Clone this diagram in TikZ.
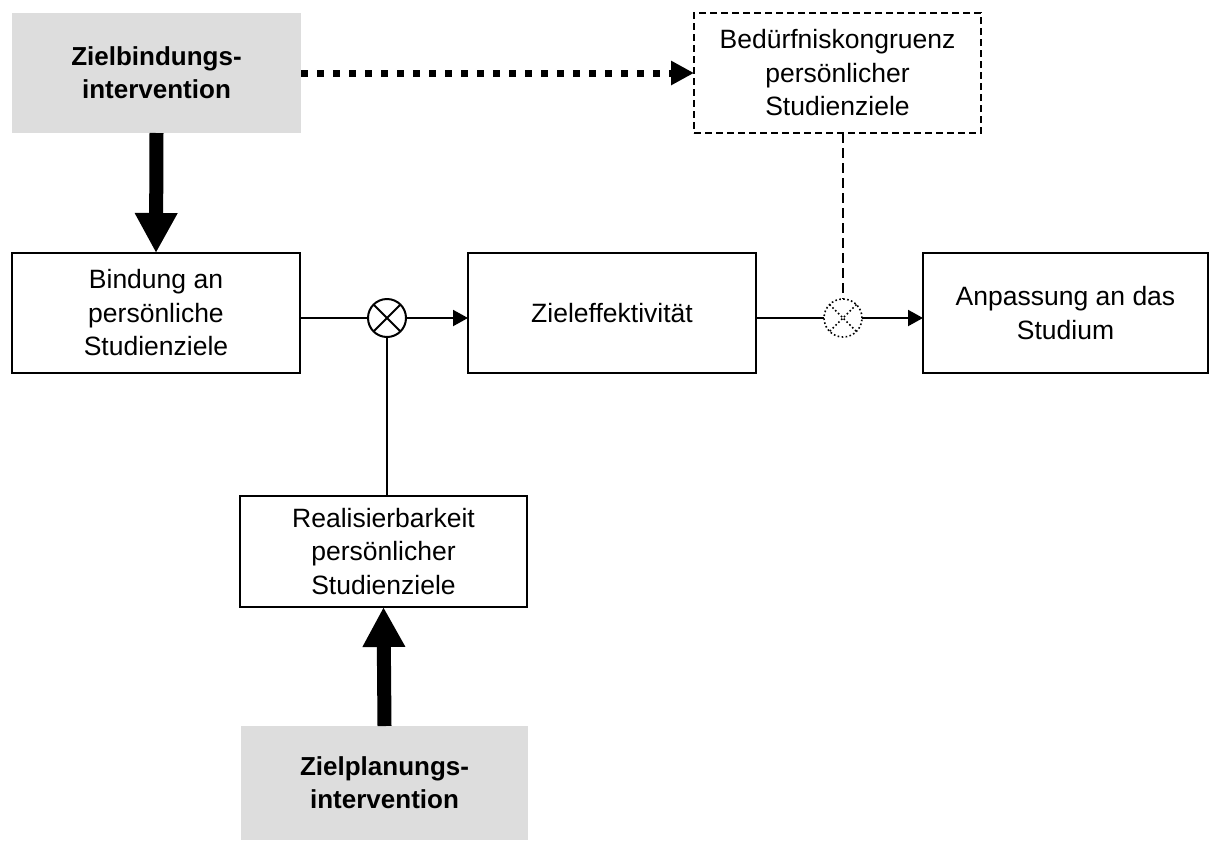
\documentclass[tikz,border=0pt]{standalone}
\usepackage{fontspec}
\setmainfont{Liberation Sans}
\usetikzlibrary{arrows.meta,calc}
\definecolor{boxgray}{RGB}{221,221,221}
\tikzset{
  x=1pt, y=-1pt,
  every node/.style={inner sep=0pt, outer sep=0pt, align=center,
    font=\fontsize{26.5}{33.5}\selectfont},
  plainbox/.style={draw=black, line width=2pt, minimum width=#1, minimum height=120pt},
  plainbox/.default=288pt,
  graybox/.style={fill=boxgray, minimum width=#1, minimum height=120pt,
    font=\fontsize{26}{33}\selectfont\bfseries},
  graybox/.default=288pt,
  dashbox/.style={draw=black, line width=2pt, dash pattern=on 7pt off 4pt,
    minimum width=287pt, minimum height=120pt},
  mult/.style={circle, draw=black, line width=2pt, minimum size=38pt},
  dotmult/.style={circle, draw=black, line width=1.6pt,
    dash pattern=on 1.6pt off 2.4pt, minimum size=38pt},
  thin/.style={line width=2pt},
  thinarrow/.style={line width=2pt, -{Triangle[length=15pt,width=16pt]}},
  fatarrow/.style={line width=14pt, -{Triangle[length=40pt,width=40pt]}},
  dotarrow/.style={line width=7pt, dash pattern=on 7pt off 9pt,
    -{Triangle[length=23pt,width=23pt]}},
}
\begin{document}
\begin{tikzpicture}
\useasboundingbox (0,0) rectangle (1209,841);

% boxes
\node[graybox=289pt] (zb) at (156.5,73) {Zielbindungs-\\intervention};
\node[dashbox] (bed) at (837.5,73) {Bedürfniskongruenz\\persönlicher\\Studienziele};
\node[plainbox] (bind) at (156,313) {Bindung an\\persönliche\\Studienziele};
\node[plainbox] (eff) at (612,313) {Zieleffektivität};
\node[plainbox=285pt] (anp) at (1065.5,313) {Anpassung an das\\Studium};
\node[plainbox=287pt, minimum height=111pt] (real) at (383.5,551.5)
  {Realisierbarkeit\\persönlicher\\Studienziele};
\node[graybox=287pt, minimum height=114pt] (plan) at (384.5,783)
  {Zielplanungs-\\intervention};

% multiplicative junctions
\node[mult] (c1) at (387,318) {};
\draw[thin] (c1.north east) -- (c1.south west) (c1.north west) -- (c1.south east);
\node[dotmult] (c2) at (843,318) {};
\draw[line width=1.6pt, dash pattern=on 1.6pt off 2.4pt]
  (c2.north east) -- (c2.south west) (c2.north west) -- (c2.south east);

% connectors
\draw[fatarrow] (zb.south) -- (bind.north);
\draw[fatarrow] (plan.north) -- (real.south);
\draw[dotarrow] (zb.east) -- (bed.west);
\draw[thin] (c1.west -| bind.east) -- (c1.west);
\draw[thinarrow] (c1.east) -- (c1.east -| eff.west);
\draw[thin] (c1.south) -- (c1.south |- real.north);
\draw[thin] (c2.west -| eff.east) -- (c2.west);
\draw[thinarrow] (c2.east) -- (c2.east -| anp.west);
\draw[line width=2pt, dash pattern=on 10pt off 5pt] (bed.south -| c2) -- (c2.north);
\end{tikzpicture}
\end{document}
